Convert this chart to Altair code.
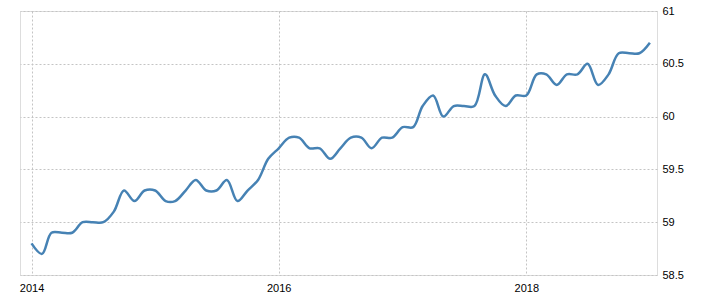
import altair as alt
import pandas as pd

start = "2014-01-01"
values = [
    58.8, 58.7, 58.9, 58.9, 58.9, 59.0, 59.0, 59.0, 59.1, 59.3, 59.2, 59.3,
    59.3, 59.2, 59.2, 59.3, 59.4, 59.3, 59.3, 59.4, 59.2, 59.3, 59.4, 59.6,
    59.7, 59.8, 59.8, 59.7, 59.7, 59.6, 59.7, 59.8, 59.8, 59.7, 59.8, 59.8,
    59.9, 59.9, 60.1, 60.2, 60.0, 60.1, 60.1, 60.1, 60.4, 60.2, 60.1, 60.2,
    60.2, 60.4, 60.4, 60.3, 60.4, 60.4, 60.5, 60.3, 60.4, 60.6, 60.6, 60.6,
    60.7,
]
dates = [d.strftime("%Y-%m-%dT00:00:00") for d in pd.date_range(start, periods=len(values), freq="MS")]
y_ticks = [58.5, 59, 59.5, 60, 60.5, 61]
x_years = [2014, 2016, 2018]

df = pd.DataFrame({"date": dates, "value": values})

grid_color = "#c4c4c4"
font = "Liberation Sans"

chart = alt.Chart(df).mark_line(
    interpolate="catmull-rom", color="#4682b4", strokeWidth=2.5
).encode(
    x=alt.X(
        "date:T",
        title=None,
        scale=alt.Scale(domain=[alt.DateTime(year=2013, month=11, date=28),
                                alt.DateTime(year=2019, month=1, date=22)]),
        axis=alt.Axis(
            values=[alt.DateTime(year=y, month=1, date=1) for y in x_years],
            format="%Y", grid=True, gridColor=grid_color, gridDash=[2, 2],
            domain=False, ticks=False, tickSize=0, labelPadding=7,
            labelFont=font, labelFontSize=11, labelColor="#000000",
        ),
    ),
    y=alt.Y(
        "value:Q",
        title=None,
        scale=alt.Scale(domain=[58.5, 61], nice=False, zero=False),
        axis=alt.Axis(
            orient="right", values=y_ticks, format="~g",
            grid=True, gridColor=grid_color, gridDash=[2, 2],
            domain=False, ticks=False, tickSize=0, labelPadding=5,
            labelFont=font, labelFontSize=11, labelColor="#000000",
        ),
    ),
).properties(
    width=637, height=264,
    autosize=alt.AutoSizeParams(type="none"),
    padding={"left": 20, "top": 11, "right": 48, "bottom": 31},
).configure_view(stroke=None).configure(background="white")

chart.save("out.html", embed_options={"renderer": "svg", "actions": False})
